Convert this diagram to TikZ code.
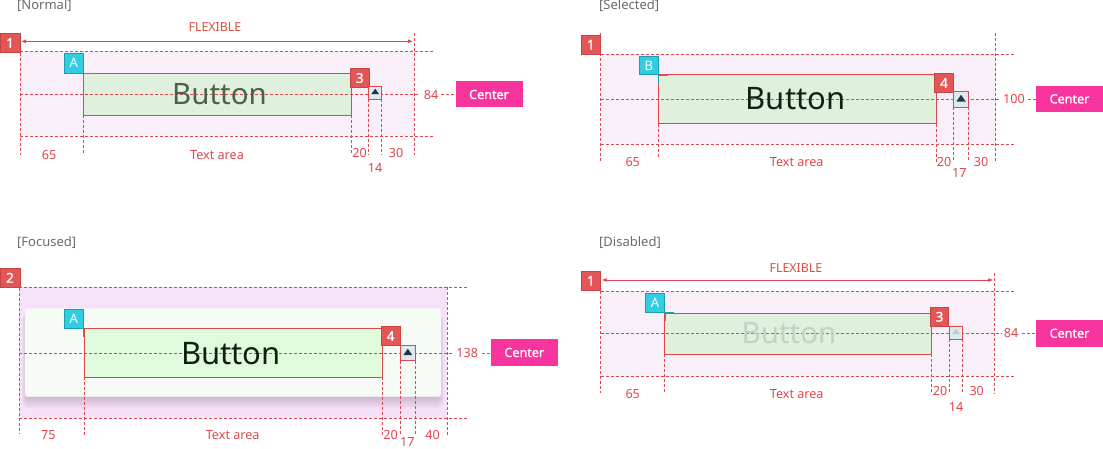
\documentclass[tikz,border=0pt]{standalone}
\usepackage{fontspec}
\setmainfont{Noto Sans}
\newfontfamily\semib{Noto Sans}[FakeBold=1.2]
\usetikzlibrary{arrows.meta}
\definecolor{lred}{HTML}{E0464E}
\definecolor{bred}{HTML}{E25656}
\definecolor{bredd}{HTML}{C84444}
\definecolor{cyanb}{HTML}{33CDE1}
\definecolor{cyand}{HTML}{1A9FB5}
\definecolor{pinkA}{HTML}{F8EFF8}
\definecolor{pinkF}{HTML}{F6E2F6}
\definecolor{greenA}{HTML}{DFF1DC}
\definecolor{greenF}{HTML}{E0FADC}
\definecolor{cmag}{HTML}{F7339D}
\definecolor{hdrgray}{HTML}{6B6B6B}
\definecolor{iconbg}{HTML}{DDEBF0}
\definecolor{icondk}{HTML}{263445}
\definecolor{flexc}{HTML}{D9503F}
\definecolor{cardc}{HTML}{F6FBF6}
\definecolor{shadc}{HTML}{8A6A94}
\definecolor{btnN}{HTML}{4D5F4D}
\definecolor{btnS}{HTML}{142214}
\definecolor{btnF}{HTML}{0E200E}
\definecolor{btnD}{HTML}{C3D2C3}
\tikzset{
  dl/.style={draw=lred, line width=0.8pt, dash pattern=on 3pt off 2pt},
  badge/.style={draw=bredd, fill=bred, text=white, font=\fontsize{13.5}{13.5}\selectfont\semib, inner sep=0, line width=0.8pt},
  cbadge/.style={draw=cyand, fill=cyanb, text=white, font=\fontsize{13}{13}\selectfont, inner sep=0, line width=0.8pt},
  gbox/.style={draw=lred, line width=0.9pt, inner sep=0},
  ibox/.style={draw=lred, fill=iconbg, line width=0.8pt, inner sep=0},
  lbl/.style={text=lred, font=\fontsize{12.6}{12.6}\selectfont, inner sep=0},
  hdr/.style={text=hdrgray, font=\fontsize{13}{13}\selectfont, anchor=west, inner sep=0},
  flex/.style={text=flexc, font=\fontsize{12.4}{12.4}\selectfont, inner sep=0},
  ctr/.style={fill=cmag, text=white, font=\fontsize{12.6}{12.6}\selectfont\semib, inner sep=0, minimum width=67pt, minimum height=26pt},
  btn/.style={inner sep=0},
  darr/.style={draw=lred, line width=0.8pt, {Latex[length=5pt,width=4pt]}-{Latex[length=5pt,width=4pt]}},
  cyl/.style={draw=cyand, line width=1pt},
  tri/.style={fill=icondk},
}
\begin{document}
\begin{tikzpicture}[x=1pt,y=-1pt]
\fill[white] (0,0) rectangle (1103,449);
\useasboundingbox (0,0) rectangle (1103,449);

%%%%%%%%%%%%%%%% NORMAL
\node[hdr] (n-hdr) at (17,6) {[Normal]};
\node[flex] (n-flex) at (215,27) {FLEXIBLE};
\fill[pinkA] (20,51.3) rectangle (414,136);
\draw[dl] (20,51.3) -- (434,51.3);
\draw[dl] (20,136) -- (434,136);
\draw[dl] (20,33) -- (20,155);
\draw[dl] (414,33) -- (414,155);
\coordinate (n-al) at (21,41.3);
\coordinate (n-ar) at (413,41.3);
\draw[darr] (n-al) -- (n-ar);
\node[badge, minimum width=20pt, minimum height=19.4pt] (n-b1) at (10,43) {1};
\node[gbox, fill=greenA, minimum width=268.4pt, minimum height=42pt] (n-g) at (217.5,94.3) {};
\draw[dl] (20,94.7) -- (420,94.7);
\draw[dl] (441,94.7) -- (456,94.7);
\node[btn, text=btnN, font=\fontsize{29.5}{29.5}\selectfont] (n-btn) at (219.5,94) {Button};
\node[cbadge, minimum width=19.3pt, minimum height=20pt] (n-a) at (73.7,63.3) {A};
\draw[cyl] (n-a.south east) -- ++(9,0);
\node[badge, minimum width=19.3pt, minimum height=19.4pt] (n-b3) at (359.7,78) {3};
\node[ibox, minimum width=13pt, minimum height=13.3pt] (n-i) at (375.2,92.7) {};
\fill[tri, shift={(n-i.center)}] (-4,1.5) -- (4,1.5) -- (0,-4) -- cycle;
\draw[dl] (83.3,115.3) -- (83.3,153);
\draw[dl] (351.7,115.3) -- (351.7,155);
\draw[dl] (368.7,99.3) -- (368.7,155);
\draw[dl] (381.7,99.3) -- (381.7,155);
\node[lbl] (n-84) at (431,94.7) {84};
\node[ctr] (n-c) at (489,94.5) {Center};
\node[lbl] (n-l65) at (49,155) {65};
\node[lbl] (n-lta) at (217,155) {Text area};
\node[lbl] (n-l20) at (359.5,153) {20};
\node[lbl] (n-l30) at (396,153) {30};
\node[lbl] (n-l14) at (375,168) {14};

%%%%%%%%%%%%%%%% SELECTED
\node[hdr] (s-hdr) at (599,6) {[Selected]};
\fill[pinkA] (600.7,54.3) rectangle (995.7,144);
\draw[dl] (600.7,54.3) -- (1015,54.3);
\draw[dl] (600.7,144) -- (1015,144);
\draw[dl] (600.7,33) -- (600.7,162);
\draw[dl] (995.7,33) -- (995.7,162);
\node[badge, minimum width=19.7pt, minimum height=19.3pt] (s-b1) at (590.8,44.7) {1};
\node[gbox, fill=greenA, minimum width=278.4pt, minimum height=49.4pt] (s-g) at (797.5,99) {};
\draw[dl] (600.7,99) -- (1000,99);
\draw[dl] (1028,99) -- (1036,99);
\node[btn, text=btnS, font=\fontsize{31}{31}\selectfont] (s-btn) at (795.5,99) {Button};
\node[cbadge, minimum width=19pt, minimum height=18.5pt] (s-a) at (648.8,65.5) {B};
\draw[cyl] (s-a.south east) -- ++(9,0);
\draw[cyl] (s-a.south east) -- ++(0,9);
\node[badge, minimum width=19.4pt, minimum height=19.4pt] (s-b4) at (944,83) {4};
\node[ibox, minimum width=15.4pt, minimum height=16pt] (s-i) at (961,99.3) {};
\fill[tri, shift={(s-i.center)}] (-4.5,2) -- (4.5,2) -- (0,-4.5) -- cycle;
\draw[lred, line width=0.8pt, shift={(s-i.center)}] (-4.5,2.3) -- (4.5,2.3);
\draw[dl] (658.3,123.7) -- (658.3,158);
\draw[dl] (936.7,123.7) -- (936.7,162);
\draw[dl] (953.3,107.3) -- (953.3,160);
\draw[dl] (968.7,107.3) -- (968.7,160);
\node[lbl] (s-100) at (1014,99) {100};
\node[ctr, minimum height=25.7pt] (s-c) at (1069.5,98.9) {Center};
\node[lbl] (s-l65) at (632.7,162.3) {65};
\node[lbl] (s-lta) at (796.7,162.3) {Text area};
\node[lbl] (s-l20) at (944,162.3) {20};
\node[lbl] (s-l30) at (981,162.3) {30};
\node[lbl] (s-l17) at (959.3,173.3) {17};

%%%%%%%%%%%%%%%% FOCUSED
\node[hdr] (f-hdr) at (17,242.5) {[Focused]};
\fill[pinkF] (19.3,287.3) rectangle (447.3,418.3);
\foreach \i in {1,...,14} {
  \fill[shadc, opacity=0.028, rounded corners=6pt] (27-\i*0.35,308+\i*0.5) rectangle (439+\i*0.35,396+\i*0.9);
}
\node[draw=black!5, fill=cardc, rounded corners=3pt, minimum width=416pt, minimum height=88.4pt, inner sep=0] (f-card) at (233,352.5) {};
\draw[dl] (19.3,287.3) -- (468.3,287.3);
\draw[dl] (19.3,418.3) -- (468.3,418.3);
\draw[dl] (19.3,268) -- (19.3,434);
\draw[dl] (447.3,287.3) -- (447.3,435);
\node[badge, minimum width=20pt, minimum height=19pt] (f-b2) at (10,277.8) {2};
\node[gbox, fill=greenF, minimum width=298pt, minimum height=48.6pt] (f-g) at (233.3,353) {};
\draw[dl] (19.3,353.3) -- (453,353.3);
\draw[dl] (482,353.3) -- (491,353.3);
\node[btn, text=btnF, font=\fontsize{31}{31}\selectfont] (f-btn) at (231,353.3) {Button};
\node[cbadge, minimum width=19.3pt, minimum height=19.4pt] (f-a) at (73.7,319) {A};
\draw[cyl] (f-a.south east) -- ++(0,8);
\node[badge, minimum width=19.3pt, minimum height=19.4pt] (f-b4) at (390.7,336) {4};
\node[ibox, minimum width=15pt, minimum height=15pt] (f-i) at (407.8,353.2) {};
\fill[tri, shift={(f-i.center)}] (-4.5,2) -- (4.5,2) -- (0,-4.5) -- cycle;
\draw[dl] (84.3,377.3) -- (84.3,435);
\draw[dl] (382.3,377.3) -- (382.3,435);
\draw[dl] (400.3,360.7) -- (400.3,435);
\draw[dl] (415.3,360.7) -- (415.3,434);
\node[lbl] (f-138) at (467.3,353.3) {138};
\node[ctr, minimum width=66.7pt, minimum height=26.4pt] (f-c) at (524.3,352.5) {Center};
\node[lbl] (f-l75) at (48.3,435) {75};
\node[lbl] (f-lta) at (232.7,435) {Text area};
\node[lbl] (f-l20) at (390.7,435) {20};
\node[lbl] (f-l40) at (432.7,435) {40};
\node[lbl] (f-l17) at (407.3,441.8) {17};

%%%%%%%%%%%%%%%% DISABLED
\node[hdr] (d-hdr) at (599,242.5) {[Disabled]};
\node[flex] (d-flex) at (796,267.7) {FLEXIBLE};
\fill[pinkA] (600.7,291) rectangle (994.3,376.3);
\draw[dl] (600.7,291) -- (1015,291);
\draw[dl] (600.7,376.3) -- (1015,376.3);
\draw[dl] (600.7,271) -- (600.7,393.3);
\draw[dl] (994.3,273) -- (994.3,393.3);
\coordinate (d-al) at (601.7,280);
\coordinate (d-ar) at (993.3,280);
\draw[darr] (d-al) -- (d-ar);
\node[badge, minimum width=19.7pt, minimum height=19.3pt] (d-b1) at (590.8,280.7) {1};
\node[gbox, fill=greenA, minimum width=267pt, minimum height=41pt] (d-g) at (798.2,333.8) {};
\draw[dl] (600.7,333.3) -- (1001,333.3);
\draw[dl] (1022,333.3) -- (1036,333.3);
\node[btn, text=btnD, font=\fontsize{29.5}{29.5}\selectfont] (d-btn) at (789,333.5) {Button};
\node[cbadge, minimum width=19.4pt, minimum height=19pt] (d-a) at (655,302.8) {A};
\draw[cyl] (d-a.south east) -- ++(9,0);
\draw[cyl] (d-a.south east) -- ++(0,8);
\node[badge, minimum width=18.4pt, minimum height=19pt] (d-b3) at (939.5,316.8) {3};
\draw[lred, line width=1pt] (d-b3.south east) -- ++(10,0);
\node[ibox, minimum width=13.4pt, minimum height=13.3pt] (d-i) at (956,332.7) {};
\fill[black!22, shift={(d-i.center)}] (-4,1.5) -- (4,1.5) -- (0,-4) -- cycle;
\draw[dl] (664.7,354.3) -- (664.7,392);
\draw[dl] (931.7,354.3) -- (931.7,393);
\draw[dl] (949.3,339.3) -- (949.3,393);
\draw[dl] (962.7,339.3) -- (962.7,393);
\node[lbl] (d-84) at (1011,333.3) {84};
\node[ctr, minimum height=26.7pt] (d-c) at (1069.5,333.3) {Center};
\node[lbl] (d-l65) at (632.7,394.3) {65};
\node[lbl] (d-lta) at (796.7,394.3) {Text area};
\node[lbl] (d-l20) at (940,391) {20};
\node[lbl] (d-l30) at (976.7,391) {30};
\node[lbl] (d-l14) at (956,406.7) {14};
\end{tikzpicture}
\end{document}
